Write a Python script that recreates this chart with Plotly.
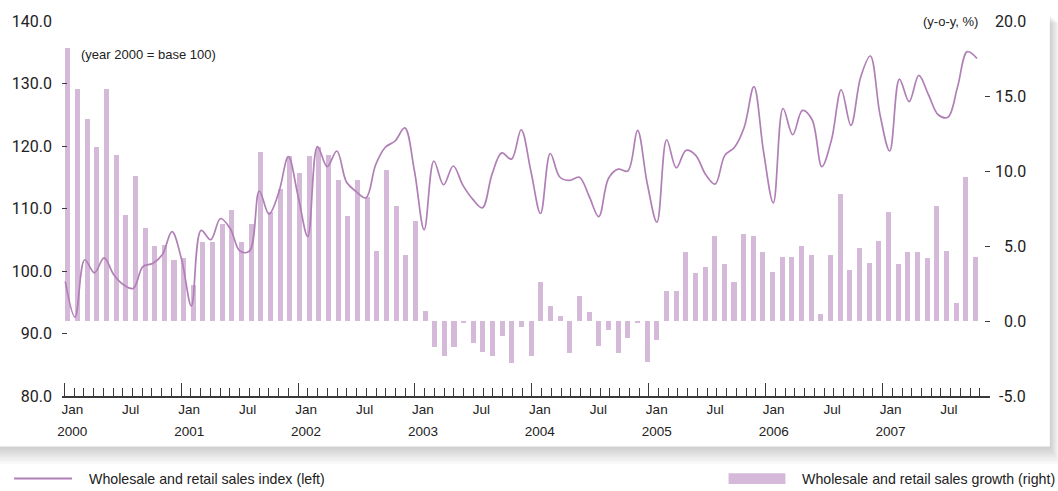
import plotly.graph_objects as go

# ---------------- data (Jan 2000 .. Nov 2007, monthly) ----------------
years = ['2000', '2001', '2002', '2003', '2004', '2005', '2006', '2007']
half_year_labels = ['Jan', 'Jul']

index_left = [
    98.3, 92.6, 101.8, 99.7, 102.1, 99.4, 97.8, 97.2, 100.7, 101.2, 102.6, 106.3,
    101.8, 94.4, 106.5, 105.0, 108.4, 106.8, 103.2, 103.2, 112.8, 109.1, 112.5, 118.3,
    112.0, 105.5, 119.9, 116.7, 119.2, 114.2, 112.7, 111.7, 117.0, 119.8, 120.8, 122.9,
    116.0, 106.6, 117.6, 113.8, 116.8, 113.7, 111.5, 110.1, 115.5, 118.9, 117.9, 122.6,
    116.0, 109.2, 118.8, 115.0, 114.5, 115.0, 112.0, 108.7, 114.8, 116.3, 116.0, 122.5,
    114.0, 107.8, 121.0, 116.5, 119.3, 118.5, 115.5, 113.9, 118.5, 119.8, 123.0, 129.5,
    119.0, 110.9, 126.0, 121.8, 125.7, 124.2, 116.7, 121.0, 129.0, 123.3, 131.0, 134.4,
    125.0, 119.2, 130.7, 127.1, 131.3, 128.2, 125.0, 124.6, 129.5, 135.1, 134.0,
]

growth_right = [
    18.2, 15.45, 13.5, 11.6, 15.5, 11.1, 7.1, 9.7, 6.2, 5.0, 5.1, 4.1,
    4.2, 2.4, 5.3, 5.3, 6.5, 7.4, 5.3, 6.5, 11.3, 7.3, 8.8, 11.0,
    9.9, 11.0, 11.6, 11.1, 9.4, 7.0, 9.4, 8.3, 4.7, 10.1, 7.7, 4.4,
    6.7, 0.66, -1.7, -2.3, -1.7, -0.15, -1.45, -2.05, -2.3, -1.0, -2.8, -0.4,
    -2.3, 2.6, 1.0, 0.33, -2.1, 1.65, 0.6, -1.65, -0.6, -2.1, -1.1, -0.1,
    -2.7, -1.25, 2.0, 2.0, 4.6, 3.2, 3.6, 5.7, 3.8, 2.6, 5.8, 5.7,
    4.6, 3.3, 4.3, 4.3, 5.0, 4.4, 0.46, 4.4, 8.45, 3.43, 4.9, 3.9,
    5.35, 7.26, 3.83, 4.6, 4.6, 4.2, 7.7, 4.7, 1.19, 9.57, 4.3,
]

left_ticks = [80, 90, 100, 110, 120, 130, 140]
right_ticks = [-5, 0, 5, 10, 15, 20]

legend_labels = ['Wholesale and retail sales index (left)',
                 'Wholesale and retail sales growth (right)']
left_note = '(year 2000 = base 100)'
right_note = '(y-o-y, %)'

# ---------------- styling ----------------
BAR = '#d5b9d8'
LINE = '#b07fb6'
TXT = '#222222'
AX = '#3a3a3a'
TXTFONT = 'Liberation Sans, Arial, sans-serif'
NUMFONT = 'Roboto, Liberation Sans, Arial, sans-serif'

W, H = 1058, 491
L, R, T, B = 60, 990, 17, 396          # plot box in pixels


def px(xp):
    return (xp - L) / (R - L)


def py(yp):
    return (B - yp) / (B - T)


def axis_range(first_px, step_px):
    return [(L - first_px) / step_px, (R - first_px) / step_px]


n = len(growth_right)
x = list(range(n))

rng_bar = axis_range(65.8, 9.676)
rng_line = axis_range(63.3, 9.72)
rng_tick = axis_range(62.3, 9.762)

jan_vals = list(range(0, n, 12))
label_vals = list(range(0, n, 6))
label_text = [half_year_labels[0] if k % 12 == 0 else half_year_labels[1] for k in label_vals]

fig = go.Figure()
fig.add_trace(go.Bar(x=x, y=growth_right, xaxis='x', yaxis='y', width=0.52,
                     marker=dict(color=BAR, line=dict(width=0)),
                     name=legend_labels[1], hoverinfo='skip'))
fig.add_trace(go.Scatter(x=x, y=index_left, xaxis='x2', yaxis='y2', mode='lines',
                         line=dict(color=LINE, width=1.7, shape='spline', smoothing=1),
                         name=legend_labels[0], hoverinfo='skip'))
# helper traces so the overlay tick / label axes are drawn
for ax in ['x3', 'x4', 'x5']:
    fig.add_trace(go.Scatter(x=[None], y=[None], xaxis=ax, yaxis='y',
                             showlegend=False, hoverinfo='skip'))

noaxis = dict(showgrid=False, zeroline=False)

shapes = []
# card shadow (bottom and right)
for k in range(8):
    shapes.append(dict(type='rect', xref='paper', yref='paper', layer='below',
                       x0=px(-20), x1=px(1050 + 1.2 * (k + 1)),
                       y0=py(447 + 2.2 * (k + 1)), y1=py(12 + k),
                       fillcolor='rgba(0,0,0,0.022)', line=dict(width=0)))
shapes.append(dict(type='rect', xref='paper', yref='paper', layer='below',
                   x0=px(-20), x1=px(1050), y0=py(447), y1=py(-20),
                   fillcolor='white', line=dict(width=0)))
# legend samples
shapes.append(dict(type='line', xref='paper', yref='paper',
                   x0=px(12), x1=px(70), y0=py(479.5), y1=py(479.5),
                   line=dict(color=LINE, width=2)))
shapes.append(dict(type='rect', xref='paper', yref='paper',
                   x0=px(728), x1=px(785), y0=py(485), y1=py(474),
                   fillcolor=BAR, line=dict(width=0)))

annotations = [
    dict(text=left_note, xref='paper', yref='paper', x=px(77), y=py(51),
         xanchor='left', yanchor='middle', showarrow=False,
         font=dict(family=TXTFONT, size=13, color=TXT)),
    dict(text=right_note, xref='paper', yref='paper', x=px(980), y=py(18),
         xanchor='right', yanchor='middle', showarrow=False,
         font=dict(family=TXTFONT, size=13, color=TXT)),
    dict(text=legend_labels[0], xref='paper', yref='paper', x=px(85), y=py(479.5),
         xanchor='left', yanchor='middle', showarrow=False,
         font=dict(family=TXTFONT, size=14.2, color=TXT)),
    dict(text=legend_labels[1], xref='paper', yref='paper', x=px(800), y=py(479.5),
         xanchor='left', yanchor='middle', showarrow=False,
         font=dict(family=TXTFONT, size=14.2, color=TXT)),
]
for v in right_ticks:
    annotations.append(dict(text=f'{v:.1f}', xref='paper', yref='y', x=px(1028), y=v,
                            xanchor='right', yanchor='middle', showarrow=False,
                            font=dict(family=NUMFONT, size=16, color=TXT)))

fig.update_layout(
    width=W, height=H,
    margin=dict(l=L, r=W - R, t=T, b=H - B, pad=0),
    paper_bgcolor='white', plot_bgcolor='rgba(0,0,0,0)',
    showlegend=False, bargap=0,
    xaxis=dict(range=rng_bar, showticklabels=False, ticks='', showline=False, **noaxis),
    xaxis2=dict(range=rng_line, overlaying='x', anchor='y', showticklabels=False,
                ticks='', showline=False, **noaxis),
    xaxis3=dict(range=rng_tick, overlaying='x', anchor='y', side='bottom',
                tickmode='array', tickvals=jan_vals, ticks='inside', ticklen=13,
                tickwidth=1, tickcolor=AX, showticklabels=False,
                minor=dict(tickmode='array', tickvals=x, ticks='inside', ticklen=8,
                           tickwidth=1, tickcolor=AX),
                showline=True, linecolor=AX, linewidth=1.5, **noaxis),
    xaxis4=dict(range=rng_tick, overlaying='x', anchor='y', side='bottom',
                tickmode='array', tickvals=label_vals, ticktext=label_text,
                ticks='', ticklabelshift=8, ticklabelstandoff=3, showline=False,
                tickfont=dict(family=TXTFONT, size=13.5, color=TXT), **noaxis),
    xaxis5=dict(range=rng_tick, overlaying='x', anchor='y', side='bottom',
                tickmode='array', tickvals=jan_vals, ticktext=years,
                ticks='', ticklabelshift=8, ticklabelstandoff=25, showline=False,
                tickfont=dict(family=TXTFONT, size=13.5, color=TXT), **noaxis),
    yaxis=dict(range=[-5, 20], side='right', anchor='x', tickmode='array',
               tickvals=right_ticks, ticks='inside', ticklen=5, tickcolor=AX,
               showticklabels=False, showline=False, **noaxis),
    yaxis2=dict(range=[80, 140], side='left', overlaying='y', anchor='x',
                tickmode='array', tickvals=left_ticks,
                ticktext=[f'{v:.1f}' for v in left_ticks],
                ticks='inside', ticklen=5, tickcolor=AX, showline=False,
                ticklabelstandoff=9,
                tickfont=dict(family=NUMFONT, size=16, color=TXT), **noaxis),
    shapes=shapes,
    annotations=annotations,
)

fig.write_html('out.html', config={'displayModeBar': False},
               post_script="document.body.style.margin='0';")
